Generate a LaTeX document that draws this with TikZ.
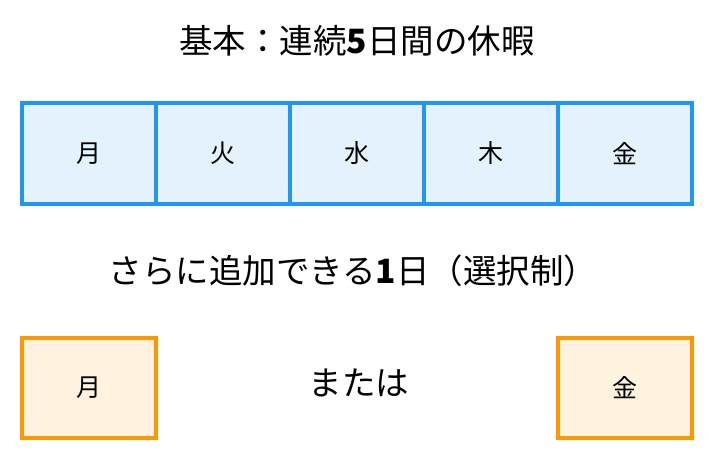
\documentclass[tikz,border=0pt]{standalone}
\usepackage{fontspec}
\setmainfont{Noto Sans CJK JP}
\definecolor{dayblue}{HTML}{2196F3}
\definecolor{dayfill}{HTML}{E3F2FD}
\definecolor{optorange}{HTML}{FF9800}
\definecolor{optfill}{HTML}{FFF3E0}
\tikzset{
  daybox/.style={draw=dayblue, fill=dayfill, line width=3.5pt, minimum width=134pt, minimum height=101pt, inner sep=0pt, font=\fontsize{25}{29}\selectfont},
  optbox/.style={draw=optorange, fill=optfill, line width=3.5pt, minimum width=134pt, minimum height=100pt, inner sep=0pt, font=\fontsize{25}{29}\selectfont},
  heading/.style={inner sep=0pt, font=\fontsize{33.5}{40}\selectfont}
}
\begin{document}
\begin{tikzpicture}[x=1pt, y=-1pt]
% Fix the page to the size of the picture
\useasboundingbox (0, 0) rectangle (712, 461);
% Heading above the week
\node[heading] (title) at (357, 41) {基本：連続\textbf{5}日間の休暇};
% The five weekdays in one row
\node[daybox] (mon) at (89, 153.5) {月};
\node[daybox] (tue) at (223, 153.5) {火};
\node[daybox] (wed) at (357, 153.5) {水};
\node[daybox] (thu) at (491, 153.5) {木};
\node[daybox] (fri) at (625, 153.5) {金};
% Second heading for the extra day
\node[heading] (extra) at (353, 271) {さらに追加できる\textbf{1}日（選択制）};
% The two choices for the extra day
\node[optbox] (extramon) at (89, 388) {月};
\node[heading] (ortext) at (359, 383) {または};
\node[optbox] (extrafri) at (625, 388) {金};
\end{tikzpicture}
\end{document}
